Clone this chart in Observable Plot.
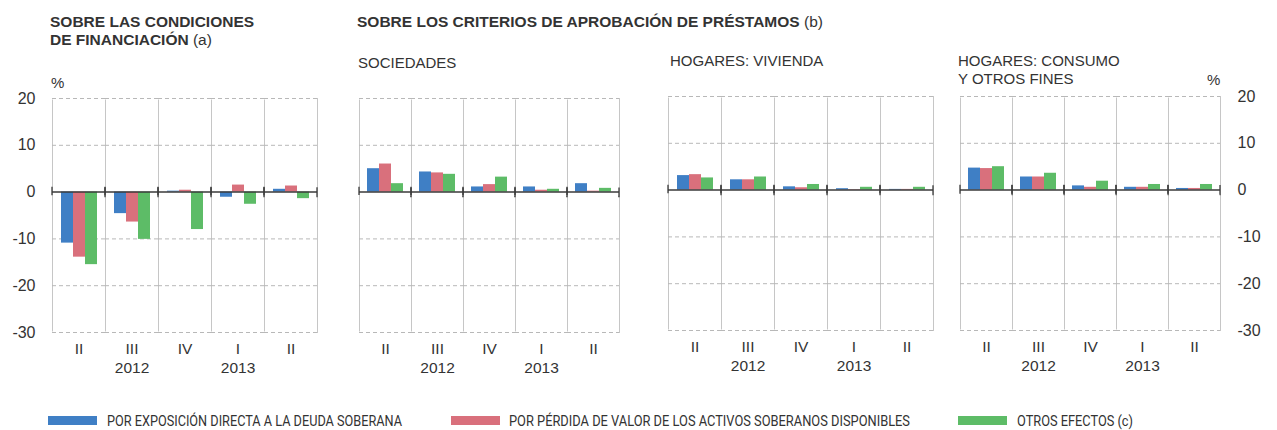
<!DOCTYPE html>
<html>
<head>
<meta charset="utf-8">
<script src="https://cdn.jsdelivr.net/npm/d3@7"></script>
<script src="https://cdn.jsdelivr.net/npm/@observablehq/plot@0.6"></script>
<style>
  body { margin: 0; background: #fff; }
  #wrap { position: relative; width: 1277px; height: 430px; font-family: "Liberation Sans", Arial, sans-serif; color: #333; overflow: hidden; }
  .t { position: absolute; white-space: nowrap; }
  .b { font-weight: 700; }
  .panel { position: absolute; }
  .sw { position: absolute; height: 9px; width: 49px; }
  .lt { position: absolute; white-space: nowrap; font-size: 15.5px; line-height: 15.5px; transform-origin: 0 0; font-family: Roboto, sans-serif; }
</style>
</head>
<body>
<div id="wrap"></div>
<script>
// ---- data ----
const quarters = ["2012-II", "2012-III", "2012-IV", "2013-I", "2013-II"];
const quarterLabels = ["II", "III", "IV", "I", "II"];
const yearLabels = ["", "2012", "", "2013", ""];
const series = [
  "POR EXPOSICIÓN DIRECTA A LA DEUDA SOBERANA",
  "POR PÉRDIDA DE VALOR DE LOS ACTIVOS SOBERANOS DISPONIBLES",
  "OTROS EFECTOS (c)"
];
const colors = ["#3f7fc5", "#d9707c", "#5dbc67"];
const yTicks = [-30, -20, -10, 0, 10, 20];

// Sobre las condiciones de financiación
const condExposicion = [-10.9, -4.6, 0.2, -1.1, 0.6];
const condPerdida    = [-13.9, -6.4, 0.4, 1.5, 1.3];
const condOtros      = [-15.5, -10.1, -8.0, -2.6, -1.4];
// Sociedades
const socExposicion = [5.0, 4.3, 1.1, 1.1, 1.8];
const socPerdida    = [6.0, 4.1, 1.6, 0.4, 0.2];
const socOtros      = [1.8, 3.8, 3.2, 0.6, 0.8];
// Hogares: vivienda
const vivExposicion = [3.1, 2.2, 0.7, 0.3, 0.15];
const vivPerdida    = [3.3, 2.2, 0.5, 0.1, 0.15];
const vivOtros      = [2.6, 2.8, 1.2, 0.6, 0.6];
// Hogares: consumo y otros fines
const conExposicion = [4.7, 2.8, 0.9, 0.6, 0.35];
const conPerdida    = [4.6, 2.8, 0.6, 0.6, 0.35];
const conOtros      = [5.0, 3.6, 1.9, 1.2, 1.2];

const wrap = document.getElementById("wrap");

function addText(html, left, baseline, cls = "", size = 15) {
  const d = document.createElement("div");
  d.className = "t " + cls;
  d.style.fontSize = size + "px";
  d.style.lineHeight = size + "px";
  d.style.left = left + "px";
  d.style.top = (baseline - 0.846 * size) + "px";
  d.innerHTML = html;
  wrap.appendChild(d);
}

// titles
addText('SOBRE LAS CONDICIONES', 50, 27, "b", 15.5);
addText('DE FINANCIACIÓN <span style="font-weight:400">(a)</span>', 50, 45, "b", 15.5);
addText('SOBRE LOS CRITERIOS DE APROBACIÓN DE PRÉSTAMOS <span style="font-weight:400">(b)</span>', 357, 27, "b", 15.5);
addText('SOCIEDADES', 358, 68, "", 15);
addText('HOGARES: VIVIENDA', 670, 66, "", 15);
addText('HOGARES: CONSUMO', 958, 66, "", 15);
addText('Y OTROS FINES', 958, 84, "", 15);
addText('%', 51, 88, "", 15);
addText('%', 1207, 85, "", 15);

function panel({values, svgLeft, plotLeft, plotRight, plotTop, axis, marginRight = 2}) {
  const plotHeight = 234;
  const marginTop = 17, marginBottom = 59;
  const marginLeft = plotLeft - svgLeft;
  const width = plotRight - svgLeft + marginRight;
  const height = marginTop + plotHeight + marginBottom;
  const data = quarters.flatMap((q, i) => series.map((s, j) => ({
    q, s, v: values[j][i], ql: quarterLabels[i], yl: yearLabels[i]
  })));
  const facetW = (plotRight - plotLeft) / quarters.length;
  const tickH = 2.1 * plotHeight / 50;
  const chart = Plot.plot({
    width, height, marginTop, marginBottom, marginLeft, marginRight,
    style: {fontFamily: "'Liberation Sans', Arial, sans-serif", fontSize: "16px", color: "#333", background: "transparent"},
    facet: {data, x: "q"},
    fx: {domain: quarters, padding: 0, axis: null, label: null},
    x: {domain: series, paddingInner: 0, paddingOuter: 0.55, axis: null},
    y: {domain: [-30, 20], ticks: yTicks, axis, tickSize: 0, tickPadding: 17, line: !!axis, label: null, tickFormat: d => String(d)},
    color: {domain: series, range: colors},
    marks: [
      Plot.frame({stroke: "#c6c6c6"}),
      Plot.ruleY([20, -30], {stroke: "white", strokeWidth: 2}),
      Plot.ruleY(yTicks.filter(d => d !== 0), {stroke: "#b8b8b8", strokeDasharray: "4,3"}),
      Plot.barY(data, {x: "s", y: "v", fill: "s"}),
      Plot.ruleY([0], {stroke: "#3a3a3a", strokeWidth: 1.5}),
      Plot.rect([0], {y1: -1.05, y2: 1.05, fill: "none", stroke: "#3a3a3a", strokeWidth: 1.3,
        strokeDasharray: `0 ${facetW} ${tickH} ${facetW} ${tickH}`}),
      Plot.text(data, {filter: d => d.s === series[0], text: "ql", frameAnchor: "bottom", dy: 21, fontSize: 15.5, fill: "#333"}),
      Plot.text(data, {filter: d => d.s === series[0] && d.yl !== "", text: "yl", frameAnchor: "bottom", dy: 40, fontSize: 15.5, fill: "#333"})
    ]
  });
  chart.classList.add("panel");
  chart.style.left = svgLeft + "px";
  chart.style.top = (plotTop - marginTop) + "px";
  wrap.appendChild(chart);
}

panel({values: [condExposicion, condPerdida, condOtros], svgLeft: 0, plotLeft: 50, plotRight: 318, plotTop: 98, axis: "left"});
panel({values: [socExposicion, socPerdida, socOtros], svgLeft: 340, plotLeft: 357, plotRight: 621, plotTop: 98, axis: null});
panel({values: [vivExposicion, vivPerdida, vivOtros], svgLeft: 648, plotLeft: 666, plotRight: 934, plotTop: 96, axis: null});
panel({values: [conExposicion, conPerdida, conOtros], svgLeft: 945, plotLeft: 959, plotRight: 1221, plotTop: 95.5, axis: "right", marginRight: 56});

// legend
const legendPos = [{sw: 48, tx: 107, w: 295}, {sw: 451, tx: 509, w: 401}, {sw: 958, tx: 1017, w: 116}];
series.forEach((s, i) => {
  const sw = document.createElement("div");
  sw.className = "sw";
  sw.style.left = legendPos[i].sw + "px";
  sw.style.top = "416px";
  sw.style.background = colors[i];
  wrap.appendChild(sw);
  const t = document.createElement("div");
  t.className = "lt";
  t.style.left = legendPos[i].tx + "px";
  t.style.top = (428 - 0.9 * 15.5) + "px";
  t.textContent = s;
  wrap.appendChild(t);
  const w = t.getBoundingClientRect().width;
  t.style.transform = `scaleX(${legendPos[i].w / w})`;
});
</script>
</body>
</html>
